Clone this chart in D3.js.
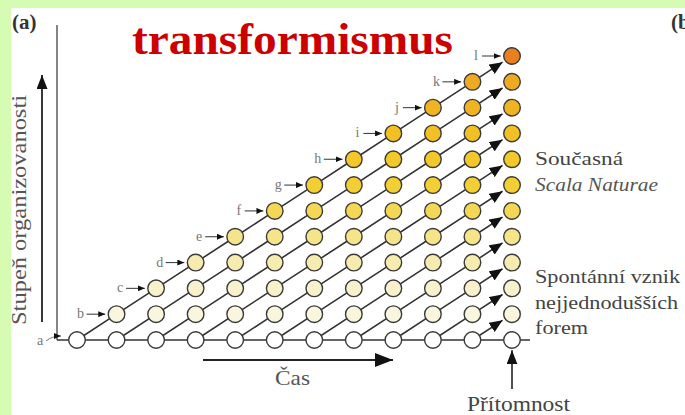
<!DOCTYPE html>
<html>
<head>
<meta charset="utf-8">
<script src="https://cdn.jsdelivr.net/npm/d3@7"></script>
<style>
  html, body { margin: 0; padding: 0; background: #d6fcb3; }
  svg { display: block; }
  text { font-family: "Liberation Serif", "Times New Roman", serif; }
</style>
</head>
<body>
<div id="chart"></div>
<script>
"use strict";

// stages of organisation (one new form appears at each time step)
var stages = ["a", "b", "c", "d", "e", "f", "g", "h", "i", "j", "k", "l"];
// fill by level of organisation, from the simplest form upwards
var levelColors = ["#ffffff", "#faf6de", "#f8f1cc", "#f7ecb0", "#f5e48a", "#f4d855",
                   "#f4cf33", "#f3c82a", "#f2c024", "#f0b423", "#eeaa22", "#e8801f"];
var title = "transformismus";
var yLabel = "Stupeň organizovanosti";
var xLabel = "Čas";
var nowLabel = "Přítomnost";
var upperNote = ["Současná", "Scala Naturae"];
var lowerNote = ["Spontánní vznik", "nejjednodušších", "forem"];

var width = 685, height = 415;
var r = 8.3;

var svg = d3.select("#chart").append("svg")
  .attr("width", width)
  .attr("height", height);

var defs = svg.append("defs");
function marker(id, w, h) {
  defs.append("marker")
    .attr("id", id)
    .attr("viewBox", "0 0 " + w + " " + h)
    .attr("refX", w).attr("refY", h / 2)
    .attr("markerUnits", "userSpaceOnUse")
    .attr("markerWidth", w).attr("markerHeight", h)
    .attr("orient", "auto")
    .append("path")
    .attr("d", "M0,0L" + w + "," + (h / 2) + "L0," + h + "Z")
    .attr("fill", "#111");
}
marker("head-big", 13, 11);
marker("head-small", 7, 6);
marker("head-axis", 14, 11);
marker("head-time", 18, 14);

// white panel
svg.append("rect")
  .attr("x", 11).attr("y", 8)
  .attr("width", width - 11).attr("height", height - 8)
  .attr("fill", "#ffffff");

var x = d3.scaleLinear().domain([0, stages.length - 1]).range([77, 512]);
var y = d3.scaleLinear().domain([0, stages.length - 1]).range([340, 56]);

var n = stages.length;
var nodes = [];
for (var c = 0; c < n; c++) {
  for (var lv = 0; lv <= c; lv++) nodes.push({col: c, level: lv});
}

// left frame line and bottom line
svg.append("line")
  .attr("x1", 57).attr("y1", 25).attr("x2", 57).attr("y2", y(0))
  .attr("stroke", "#666").attr("stroke-width", 1.6);
svg.append("line")
  .attr("x1", 57).attr("y1", y(0)).attr("x2", x(n - 1) + 18).attr("y2", y(0))
  .attr("stroke", "#333").attr("stroke-width", 1.6);

// diagonals: every form keeps its line of descent and rises one level per step
var line = d3.line().x(function(d) { return x(d.col); }).y(function(d) { return y(d.level); });
for (var k = 0; k < n - 1; k++) {
  var pts = [];
  for (var i = 0; k + i < n; i++) pts.push({col: k + i, level: i});
  var body = pts.slice(0, pts.length - 1);
  if (body.length > 1) {
    svg.append("path").attr("d", line(body))
      .attr("fill", "none").attr("stroke", "#333").attr("stroke-width", 1.6);
  }
  var p0 = pts[pts.length - 2], p1 = pts[pts.length - 1];
  var x0 = x(p0.col), y0 = y(p0.level), x1 = x(p1.col), y1 = y(p1.level);
  var len = Math.hypot(x1 - x0, y1 - y0);
  var t = (len - r - 3) / len;
  svg.append("line")
    .attr("x1", x0).attr("y1", y0)
    .attr("x2", x0 + (x1 - x0) * t).attr("y2", y0 + (y1 - y0) * t)
    .attr("stroke", "#333").attr("stroke-width", 1.6)
    .attr("marker-end", "url(#head-big)");
}

svg.selectAll("circle.node")
  .data(nodes)
  .enter().append("circle")
  .attr("class", "node")
  .attr("cx", function(d) { return x(d.col); })
  .attr("cy", function(d) { return y(d.level); })
  .attr("r", r)
  .attr("fill", function(d) { return levelColors[d.level]; })
  .attr("stroke", "#3a3a3a")
  .attr("stroke-width", 1.4);

// stage letters with small arrows (a points at the corner)
stages.forEach(function(s, i) {
  if (i === 0) return;
  var cx = x(i), cy = y(i);
  svg.append("text")
    .attr("x", cx - 36).attr("y", cy + 4)
    .attr("text-anchor", "middle")
    .attr("font-size", 14).attr("fill", "#777")
    .text(s);
  svg.append("line")
    .attr("x1", cx - 30).attr("y1", cy).attr("x2", cx - r - 3).attr("y2", cy)
    .attr("stroke", "#444").attr("stroke-width", 1.1)
    .attr("marker-end", "url(#head-small)");
});
svg.append("text")
  .attr("x", 40).attr("y", 345)
  .attr("text-anchor", "middle")
  .attr("font-size", 14).attr("fill", "#777")
  .text(stages[0]);
svg.append("path")
  .attr("d", "M46,341Q52,336 61,336")
  .attr("fill", "none").attr("stroke", "#777").attr("stroke-width", 1)
  .attr("marker-end", "url(#head-small)");

// vertical axis arrow and label
svg.append("line")
  .attr("x1", 42).attr("y1", 322).attr("x2", 42).attr("y2", 75)
  .attr("stroke", "#222").attr("stroke-width", 1.8)
  .attr("marker-end", "url(#head-axis)");
svg.append("text")
  .attr("transform", "translate(26,210) rotate(-90)")
  .attr("text-anchor", "middle")
  .attr("font-size", 21).attr("fill", "#555")
  .attr("textLength", 230).attr("lengthAdjust", "spacingAndGlyphs")
  .text(yLabel);

// time arrow
svg.append("line")
  .attr("x1", 203).attr("y1", 360).attr("x2", 393).attr("y2", 360)
  .attr("stroke", "#222").attr("stroke-width", 1.8)
  .attr("marker-end", "url(#head-time)");
svg.append("text")
  .attr("x", 275).attr("y", 385)
  .attr("font-size", 21).attr("fill", "#555")
  .attr("textLength", 35).attr("lengthAdjust", "spacingAndGlyphs")
  .text(xLabel);

// present
svg.append("line")
  .attr("x1", x(n - 1)).attr("y1", 389).attr("x2", x(n - 1)).attr("y2", y(0) + r + 2)
  .attr("stroke", "#222").attr("stroke-width", 1.6)
  .attr("marker-end", "url(#head-axis)");
svg.append("text")
  .attr("x", 467).attr("y", 411)
  .attr("font-size", 20).attr("fill", "#444")
  .attr("textLength", 103).attr("lengthAdjust", "spacingAndGlyphs")
  .text(nowLabel);

// notes on the right
svg.append("text")
  .attr("x", 535).attr("y", 165)
  .attr("font-size", 19).attr("fill", "#444")
  .attr("textLength", 88).attr("lengthAdjust", "spacingAndGlyphs")
  .text(upperNote[0]);
svg.append("text")
  .attr("x", 535).attr("y", 191)
  .attr("font-size", 19).attr("fill", "#555").attr("font-style", "italic")
  .attr("textLength", 123).attr("lengthAdjust", "spacingAndGlyphs")
  .text(upperNote[1]);
lowerNote.forEach(function(s, i) {
  var tx = svg.append("text")
    .attr("x", 535).attr("y", 283 + i * 25.5)
    .attr("font-size", 19).attr("fill", "#444")
    .text(s);
  var w = tx.node().getComputedTextLength();
  tx.attr("textLength", w * 1.17).attr("lengthAdjust", "spacingAndGlyphs");
});

// panel letters and title (b is cropped at the right edge, as in the source)
svg.append("text")
  .attr("x", 12).attr("y", 29)
  .attr("font-size", 21).attr("font-weight", "bold").attr("fill", "#333")
  .text("(a)");
svg.append("text")
  .attr("x", 671).attr("y", 29)
  .attr("font-size", 21).attr("font-weight", "bold").attr("fill", "#333")
  .text("(b)");
svg.append("text")
  .attr("x", 132).attr("y", 54)
  .attr("font-size", 44).attr("font-weight", "bold").attr("fill", "#cc0000")
  .attr("textLength", 321).attr("lengthAdjust", "spacingAndGlyphs")
  .text(title);
</script>
</body>
</html>
